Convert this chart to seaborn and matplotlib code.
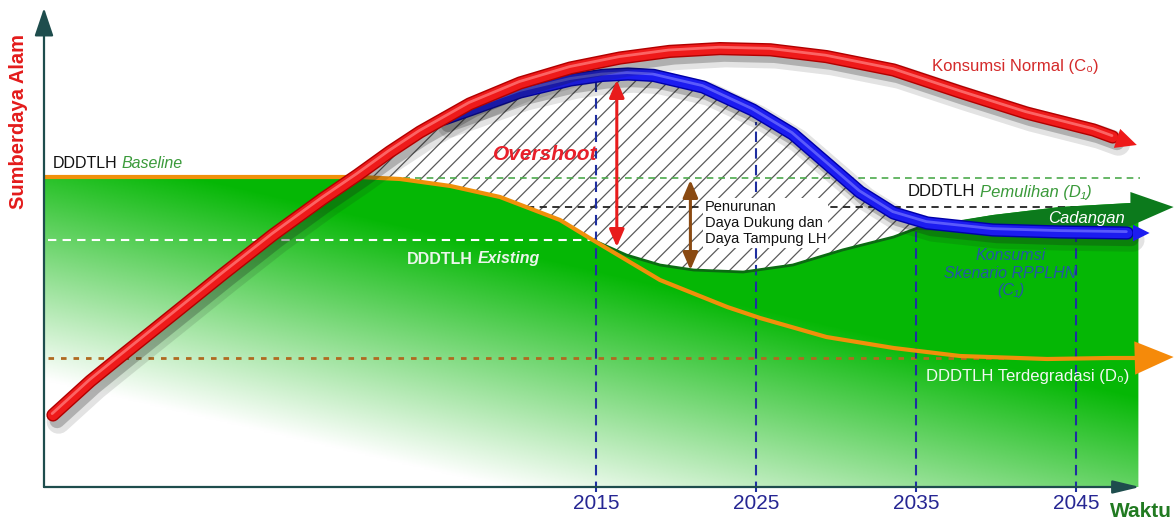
import numpy as np
import matplotlib
matplotlib.use("Agg")
import matplotlib.pyplot as plt
import matplotlib.patheffects as pe
import seaborn as sns

# time axis (years) and resource index (arbitrary units, 0 = time axis)
YEARS = [2015, 2025, 2035, 2045]
VLINE_TOP = [102.25, 91.25, 65.25, 62.75]

# Konsumsi Normal (C0)
C0_X = [1981.06, 1983.4, 1985.25, 1988.6, 1991.7, 1994.8, 1997.9, 2000.1, 2002.1, 2004.0,
        2007.1, 2010.25, 2013.4, 2016.5, 2019.6, 2022.75, 2025.9, 2029.4, 2033.6, 2037.75,
        2041.9, 2046.1, 2047.3]
C0_Y = [18.0, 26.5, 32.5, 43.25, 53.25, 63.0, 72.0, 78.0, 83.75, 88.75,
        95.75, 101.0, 104.75, 107.25, 108.9, 109.6, 109.3, 107.6, 104.25, 98.75,
        93.5, 89.25, 87.5]
C0_TIP = (2048.8, 85.5)

# Konsumsi Skenario RPPLHN (C1)
C1_X = [2005.5, 2007.1, 2010.25, 2013.4, 2015.4, 2017.0, 2018.6, 2021.7, 2024.8, 2027.3,
        2029.4, 2031.5, 2033.6, 2035.7, 2039.8, 2044.0, 2048.2]
C1_Y = [92.0, 94.25, 98.75, 101.75, 102.9, 103.25, 102.9, 100.0, 94.25, 88.25,
        81.0, 73.75, 68.5, 66.0, 64.25, 63.75, 63.5]
C1_TIP = (2049.6, 63.5)

# DDDTLH baseline -> terdegradasi (D0)
D0_X = [1980.5, 2000.25, 2002.75, 2005.9, 2009.0, 2012.75, 2014.8, 2019.0, 2023.2, 2025.25,
        2029.4, 2033.6, 2037.75, 2043.2, 2047.1, 2048.7]
D0_Y = [77.5, 77.5, 77.0, 75.25, 72.5, 66.75, 61.75, 51.75, 45.0, 42.25,
        37.5, 34.75, 32.75, 32.0, 32.25, 32.25]
D0_TIP = (2051.1, 32.5)

# DDDTLH with RPPLHN scenario (green top after 2015)
DT_X = [2014.8, 2016.9, 2019.0, 2021.1, 2024.2, 2027.3, 2030.4, 2033.6, 2035.1]
DT_Y = [61.75, 58.0, 55.5, 54.25, 53.75, 55.5, 59.25, 62.5, 64.75]

# Cadangan arrow outline
CAD_X = [2035.1, 2039.8, 2044.0, 2048.4, 2048.4, 2051.1, 2048.4, 2044.0, 2035.1]
CAD_Y = [65.0, 68.0, 70.0, 71.0, 73.75, 70.0, 65.25, 63.25, 64.25]

BASELINE = 77.5
PEMULIHAN = 70.0
EXISTING = 61.75
TERDEGRADASI = 32.25
GREEN_RIGHT = 2048.9

sns.set_theme(style="white")
plt.rcParams["font.family"] = ["Liberation Sans", "DejaVu Sans"]
plt.rcParams["hatch.linewidth"] = 0.9
plt.rcParams["hatch.color"] = "#5a5a5a"

fig = plt.figure(figsize=(11.74, 5.21), dpi=100)
ax = fig.add_axes([44 / 1174, 34 / 521, 1130 / 1174, 487 / 521])
X0, X1, Y1 = 1980.5, 2051.125, 121.75

# ---- green capacity area with gradient ----
gx = [x for x in D0_X if x <= 2014.8] + DT_X[1:] + CAD_X[1:4] + [GREEN_RIGHT, GREEN_RIGHT, X0]
gy = [y for x, y in zip(D0_X, D0_Y) if x <= 2014.8] + DT_Y[1:] + CAD_Y[1:4] + [CAD_Y[3], 0, 0]
poly = ax.fill(gx, gy, facecolor="none", edgecolor="none", zorder=1)[0]

xx, yy = np.meshgrid(np.linspace(X0, GREEN_RIGHT, 500), np.linspace(0, 80, 250))
s = np.clip(0.0168 * yy - 0.449 + 0.01568 * (xx - X0), 0, 1)[..., None]
green = np.array([0.02, 0.72, 0.02])
rgb = (1 - s) * np.ones(3) + s * green
im = ax.imshow(rgb, extent=[X0, GREEN_RIGHT, 0, 80], origin="lower", aspect="auto", zorder=1)
im.set_clip_path(poly)

# ---- overshoot (hatched) ----
hx = [x for x in C0_X if 2000.1 <= x <= 2004.0] + [x for x in C1_X if x <= 2033.6]
hy = [y for x, y in zip(C0_X, C0_Y) if 2000.1 <= x <= 2004.0] + [y for x, y in zip(C1_X, C1_Y) if x <= 2033.6]
hx += DT_X[::-1] + [x for x in D0_X if 2000.25 <= x < 2014.8][::-1]
hy += DT_Y[::-1] + [y for x, y in zip(D0_X, D0_Y) if 2000.25 <= x < 2014.8][::-1]
ax.fill(hx, hy, facecolor="white", edgecolor="#5a5a5a", hatch="//", lw=0, zorder=2)

# ---- reference lines ----
ax.hlines(BASELINE - 0.25, 2001.5, 2049.0, colors="#4daa4d", linestyles=(0, (4, 3)), lw=1.2, zorder=3)
ax.hlines(PEMULIHAN, 2010.7, 2047.4, colors="#222222", linestyles=(0, (4, 3)), lw=1.3, zorder=3)
ax.hlines(EXISTING, 1980.75, 2015.0, colors="white", linestyles=(0, (4, 3)), lw=1.5, zorder=3)
ax.hlines(TERDEGRADASI, 1980.75, 2040.9, colors="#b06a20", linestyles=(0, (2, 2.5)), lw=2, zorder=3)
ax.vlines(YEARS, -1.25, VLINE_TOP, colors="#1f2fa0", linestyles=(0, (5, 3)), lw=1.5, zorder=3, clip_on=False)

sns.lineplot(x=DT_X, y=DT_Y, ax=ax, color="#0b6b12", lw=2, sort=False, zorder=3,
             solid_joinstyle="round")
sns.lineplot(x=D0_X, y=D0_Y, ax=ax, color="#f0900a", lw=3, sort=False, zorder=4,
             solid_joinstyle="round")

ax.fill(CAD_X, CAD_Y, color="#0c7a1c", lw=0, zorder=4)


def head(tail, tip, color, length, width, z):
    ax.annotate("", xy=tip, xytext=tail, annotation_clip=False, zorder=z,
                arrowprops=dict(arrowstyle=f"-|>,head_length={length},head_width={width}",
                                color=color, lw=0, shrinkA=0, shrinkB=0, mutation_scale=20))


head((D0_X[-1], D0_Y[-1]), D0_TIP, "#f58a0a", 1.4, 0.6, 4)

shadow = [pe.SimpleLineShadow(offset=(4, -5), shadow_color="k", alpha=0.12, linewidth=17),
          pe.SimpleLineShadow(offset=(3, -4), shadow_color="k", alpha=0.25, linewidth=11)]

blue_fx = shadow + [pe.Stroke(linewidth=9.5, foreground="#0000a8"), pe.Normal(),
                    pe.Stroke(offset=(-0.6, 1.0), linewidth=2, foreground="#6a6aff", alpha=0.8)]
sns.lineplot(x=C1_X, y=C1_Y, ax=ax, color="#1c1cf0", lw=7.5, sort=False, zorder=5,
             path_effects=blue_fx, solid_capstyle="round", solid_joinstyle="round")
head((C1_X[-1], C1_Y[-1]), C1_TIP, "#1c1cf0", 0.6, 0.3, 5)

red_fx = shadow + [pe.Stroke(linewidth=9.5, foreground="#b00000"), pe.Normal(),
                   pe.Stroke(offset=(-0.6, 1.0), linewidth=2, foreground="#ff7777", alpha=0.8)]
sns.lineplot(x=C0_X, y=C0_Y, ax=ax, color="#ee1a1a", lw=7.5, sort=False, zorder=6,
             path_effects=red_fx, solid_capstyle="round", solid_joinstyle="round")
head((C0_X[-1], C0_Y[-1]), C0_TIP, "#ee1a1a", 0.75, 0.36, 6)

# double arrows
ax.annotate("", xy=(2016.3, 101.75), xytext=(2016.3, 60.0), zorder=7,
            arrowprops=dict(arrowstyle="<|-|>,head_length=0.7,head_width=0.3", color="#e81c1c",
                            lw=2.2, shrinkA=0, shrinkB=0, mutation_scale=15))
ax.annotate("", xy=(2020.9, 76.75), xytext=(2020.9, 54.25), zorder=7,
            arrowprops=dict(arrowstyle="<|-|>,head_length=0.7,head_width=0.3", color="#8a4a12",
                            lw=2.2, shrinkA=0, shrinkB=0, mutation_scale=15))

# axes arrows
ax.annotate("", xy=(X0, 119.75), xytext=(X0, 0), annotation_clip=False, zorder=8,
            arrowprops=dict(arrowstyle="-|>,head_length=0.86,head_width=0.29", color="#1e4d4d",
                            lw=1.6, shrinkA=0, shrinkB=0, mutation_scale=20))
ax.annotate("", xy=(2049.0, 0), xytext=(X0, 0), annotation_clip=False, zorder=8,
            arrowprops=dict(arrowstyle="-|>,head_length=0.83,head_width=0.2", color="#1e4d4d",
                            lw=1.6, shrinkA=0, shrinkB=0, mutation_scale=20))


# ---- texts ----
def two_part(x, y, a, b, ca, cb, size, wa="normal", sb="italic", wb="normal"):
    t = ax.text(x, y, a, color=ca, fontsize=size, fontweight=wa, va="center", ha="left", zorder=9)
    ax.annotate(b, xy=(1, 0.5), xycoords=t, xytext=(3, 0), textcoords="offset points",
                color=cb, fontsize=size, fontstyle=sb, fontweight=wb, va="center", ha="left", zorder=9)


two_part(1981.06, 81.0, "DDDTLH", "Baseline", "#111111", "#3a9a3a", 11.5)
two_part(2034.5, 73.75, "DDDTLH", "Pemulihan (D\u2081)", "#111111", "#3a9a3a", 12)
two_part(2003.2, 57.0, "DDDTLH", "Existing", "#eaf6ea", "#eaf6ea", 11.5, wa="bold", wb="bold")

ax.text(2011.8, 83.0, "Overshoot", color="#e8202a", fontsize=15, fontweight="bold",
        fontstyle="italic", ha="center", va="center", zorder=9)
ax.text(2021.8, 66.0, "Penurunan\nDaya Dukung dan\nDaya Tampung LH", color="#111111",
        fontsize=10.5, ha="left", va="center", linespacing=1.15, zorder=9,
        bbox=dict(facecolor="white", edgecolor="none", pad=1.5))
ax.text(2036.0, 105.0, "Konsumsi Normal (C\u2080)", color="#d42a2a", fontsize=12,
        ha="left", va="center", zorder=9)
ax.text(2043.25, 67.25, "Cadangan", color="white", fontsize=12, fontstyle="italic",
        ha="left", va="center", zorder=9)
ax.text(2040.9, 53.5, "Konsumsi\nSkenario RPPLHN\n(C\u2081)", color="#2457a6", fontsize=11.5,
        fontstyle="italic", ha="center", va="center", linespacing=1.2, zorder=9)
ax.text(2035.6, 27.75, "DDDTLH Terdegradasi (D\u2080)", color="#f2f8f2", fontsize=12,
        ha="left", va="center", zorder=9)

ax.set_xlim(X0, X1)
ax.set_ylim(0, Y1)
ax.set_xticks(YEARS)
ax.set_xticklabels([str(y) for y in YEARS])
ax.set_yticks([])
ax.tick_params(axis="x", length=0, pad=5, labelsize=15, labelcolor="#262693")
for sp in ax.spines.values():
    sp.set_visible(False)

ax.set_ylabel("Sumberdaya Alam", color="#e31b1b", fontsize=14.5, fontweight="bold")
ax.yaxis.set_label_coords(-0.014, 0.751)
ax.set_xlabel("Waktu", color="#217a21", fontsize=15, fontweight="bold")
ax.xaxis.set_label_coords(0.971, -0.031)

fig.savefig("out.png", dpi=100)
